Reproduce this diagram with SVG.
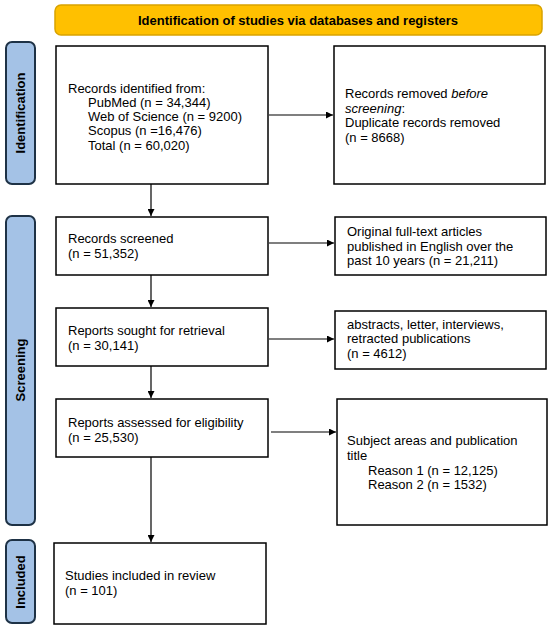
<svg xmlns="http://www.w3.org/2000/svg" width="550" height="630" viewBox="0 0 550 630">
<defs>
<marker id="ah" viewBox="0 0 10 10" refX="10" refY="5" markerWidth="7" markerHeight="7" markerUnits="userSpaceOnUse" orient="auto">
<path d="M0,0 L10,5 L0,10 Z" fill="#000"/>
</marker>
<style>
.box{fill:#fff;stroke:#000;stroke-width:1.5}
.side{fill:#A4C2E6;stroke:#1E3246;stroke-width:2}
.t{font-family:"Liberation Sans",Arial,sans-serif;font-size:13px;fill:#000}
.b{font-family:"Liberation Sans",Arial,sans-serif;font-size:13px;font-weight:bold;fill:#000}
.c{stroke:#000;stroke-width:1.2;fill:none}
</style>
</defs>
<rect width="550" height="630" fill="#fff"/>
<g id="banner">
<rect x="55" y="5" width="487" height="30" rx="6" fill="#FFC000" stroke="#D9A300" stroke-width="1.5"/>
<text class="b" x="298" y="24.5" text-anchor="middle">Identification of studies via databases and registers</text>
</g>
<g id="label-identification">
<rect class="side" x="6" y="42" width="29" height="142" rx="6"/>
<text class="b" transform="translate(25,113) rotate(-90)" text-anchor="middle" font-size="12.5">Identification</text>
</g>
<g id="label-screening">
<rect class="side" x="6" y="216" width="29" height="309" rx="6"/>
<text class="b" transform="translate(25,370) rotate(-90)" text-anchor="middle">Screening</text>
</g>
<g id="label-included">
<rect class="side" x="6" y="540" width="29" height="83" rx="6"/>
<text class="b" transform="translate(25,582) rotate(-90)" text-anchor="middle">Included</text>
</g>
<g id="records-identified">
<rect class="box" x="56" y="46" width="212" height="138"/>
<text class="t" x="68" y="92.5">Records identified from:</text>
<text class="t" x="88" y="106.8">PubMed (n = 34,344)</text>
<text class="t" x="88" y="121.1">Web of Science (n = 9200)</text>
<text class="t" x="88" y="135.4">Scopus (n =16,476)</text>
<text class="t" x="88" y="149.7">Total (n = 60,020)</text>
</g>
<g id="records-removed">
<rect class="box" x="334" y="46" width="211" height="138"/>
<text class="t" x="345" y="98">Records removed <tspan font-style="italic">before</tspan></text>
<text class="t" x="345" y="112.5"><tspan font-style="italic">screening</tspan>:</text>
<text class="t" x="345" y="127">Duplicate records removed</text>
<text class="t" x="345" y="141.5"> (n = 8668)</text>
</g>
<g id="records-screened">
<rect class="box" x="56" y="217" width="212" height="58"/>
<text class="t" x="68" y="243">Records screened</text>
<text class="t" x="68" y="258">(n = 51,352)</text>
</g>
<g id="excluded-1">
<rect class="box" x="335" y="217" width="211" height="58"/>
<text class="t" x="347" y="236">Original full-text articles</text>
<text class="t" x="347" y="250.5">published in English over the</text>
<text class="t" x="347" y="265">past 10 years (n = 21,211)</text>
</g>
<g id="reports-sought">
<rect class="box" x="56" y="308" width="212" height="58"/>
<text class="t" x="68" y="335">Reports sought for retrieval</text>
<text class="t" x="68" y="350">(n = 30,141)</text>
</g>
<g id="excluded-2">
<rect class="box" x="335" y="311" width="211" height="58"/>
<text class="t" x="347" y="328.5">abstracts, letter, interviews,</text>
<text class="t" x="347" y="343">retracted publications</text>
<text class="t" x="347" y="357.5">(n = 4612)</text>
</g>
<g id="reports-assessed">
<rect class="box" x="56" y="399" width="212" height="58"/>
<text class="t" x="68" y="427">Reports assessed for eligibility</text>
<text class="t" x="68" y="441.5">(n = 25,530)</text>
</g>
<g id="excluded-3">
<rect class="box" x="337" y="399" width="210" height="126"/>
<text class="t" x="347" y="445">Subject areas and publication</text>
<text class="t" x="347" y="459.5">title</text>
<text class="t" x="368" y="474.5">Reason 1 (n = 12,125)</text>
<text class="t" x="368" y="489">Reason 2 (n = 1532)</text>
</g>
<g id="studies-included">
<rect class="box" x="54" y="543" width="212" height="81"/>
<text class="t" x="65" y="580">Studies included in review</text>
<text class="t" x="65" y="595">(n = 101)</text>
</g>
<g id="connectors">
<line class="c" x1="151" y1="184" x2="151" y2="216" marker-end="url(#ah)"/>
<line class="c" x1="151" y1="275" x2="151" y2="307" marker-end="url(#ah)"/>
<line class="c" x1="151" y1="366" x2="151" y2="398" marker-end="url(#ah)"/>
<line class="c" x1="151" y1="457" x2="151" y2="542" marker-end="url(#ah)"/>
<line class="c" x1="269" y1="115" x2="333" y2="115" marker-end="url(#ah)"/>
<line class="c" x1="269" y1="243" x2="334" y2="243" marker-end="url(#ah)"/>
<line class="c" x1="269" y1="339" x2="334" y2="339" marker-end="url(#ah)"/>
<line class="c" x1="271" y1="432" x2="336" y2="432" marker-end="url(#ah)"/>
</g>
</svg>
